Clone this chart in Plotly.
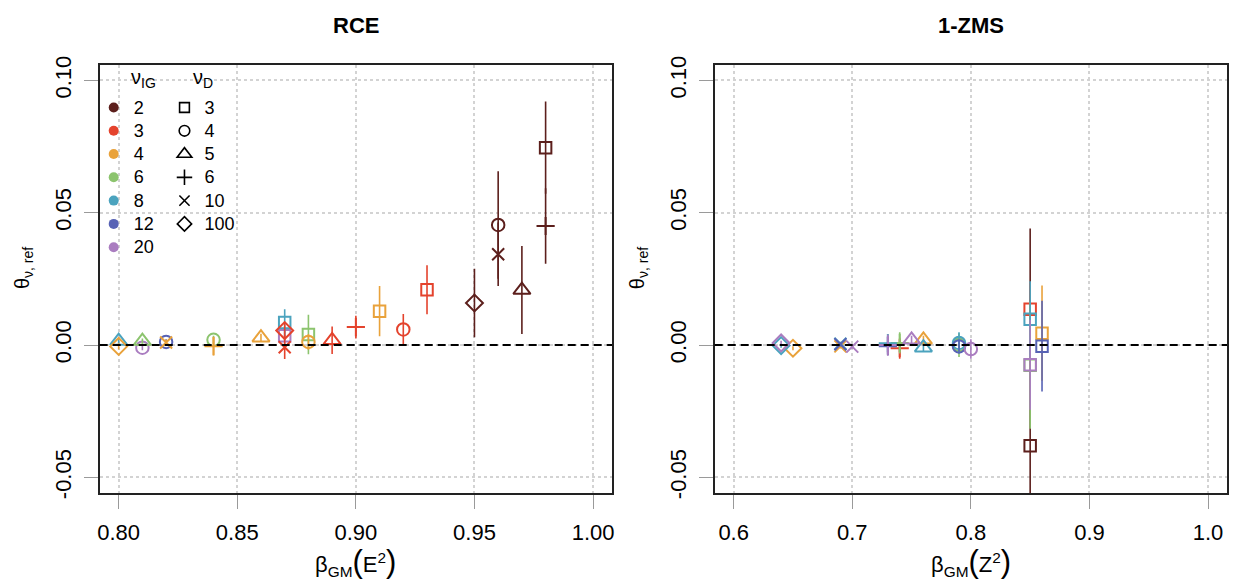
import plotly.graph_objects as go

# ---------------- data ----------------
nuig_levels = [2, 3, 4, 6, 8, 12, 20]
nud_levels = [3, 4, 5, 6, 10, 100]

# RCE panel
rce_beta = [0.80, 0.80, 0.81, 0.81, 0.82, 0.82, 0.84, 0.84, 0.86, 0.87, 0.87, 0.87, 0.87,
            0.88, 0.88, 0.89, 0.90, 0.91, 0.92, 0.93, 0.95, 0.96, 0.96, 0.97, 0.98, 0.98]
rce_theta = [0.0015, -0.0005, 0.0015, -0.0010, 0.0012, 0.0010, 0.0020, -0.0004, 0.0028,
             0.0085, 0.0035, 0.0055, -0.0008, 0.0040, 0.0012, 0.0018, 0.0068, 0.0128,
             0.0059, 0.0209, 0.0159, 0.0454, 0.0343, 0.0208, 0.0746, 0.0450]
rce_err = [0.0010, 0.0012, 0.0010, 0.0010, 0.0010, 0.0010, 0.0015, 0.0035, 0.0015,
           0.0050, 0.0030, 0.0030, 0.0045, 0.0075, 0.0030, 0.0052, 0.0043, 0.0095,
           0.0058, 0.0093, 0.0129, 0.0203, 0.0120, 0.0166, 0.0174, 0.0143]
rce_nuig = [8, 4, 6, 20, 12, 4, 6, 4, 4, 8, 20, 3, 3, 6, 4, 3, 3, 4, 3, 3, 2, 2, 2, 2, 2, 2]
rce_nud = [5, 100, 5, 4, 4, 10, 4, 6, 5, 3, 3, 100, 10, 3, 4, 5, 6, 3, 4, 3, 100, 4, 10, 5, 3, 6]

# 1-ZMS panel
zms_beta = [0.64, 0.64, 0.65, 0.69, 0.69, 0.69, 0.70, 0.73, 0.73, 0.73, 0.74, 0.74, 0.75,
            0.76, 0.76, 0.79, 0.79, 0.79, 0.79, 0.80, 0.85, 0.85, 0.85, 0.85, 0.85, 0.86, 0.86]
zms_theta = [-0.0002, 0.0008, -0.0012, -0.0005, 0.0005, 0.0003, -0.0006, 0.0007, -0.0004,
             0.0000, -0.0012, 0.0008, 0.0020, 0.0020, -0.0010, 0.0000, 0.0008, 0.0000,
             -0.0005, -0.0015, 0.0135, 0.0098, -0.0076, -0.0074, -0.0380, 0.0045, -0.0004]
zms_err = [0.0008, 0.0008, 0.0008, 0.0008, 0.0008, 0.0008, 0.0008, 0.0010, 0.0010,
           0.0040, 0.0040, 0.0040, 0.0015, 0.0015, 0.0015, 0.0045, 0.0040, 0.0020,
           0.0020, 0.0037, 0.0100, 0.0143, 0.0240, 0.0170, 0.0820, 0.0180, 0.0171]
zms_nuig = [8, 20, 4, 4, 8, 12, 20, 8, 12, 20, 3, 6, 20, 4, 8, 6, 8, 4, 12, 20,
            3, 8, 6, 20, 2, 4, 12]
zms_nud = [100, 100, 100, 10, 10, 10, 10, 6, 6, 6, 6, 6, 5, 5, 5, 4, 4, 4, 4, 4,
           3, 3, 3, 3, 3, 3, 3]

# ---------------- styles ----------------
colors = {2: '#5C1F1C', 3: '#E4432D', 4: '#E9A23B', 6: '#8CC46E',
          8: '#4BA3BE', 12: '#5762B5', 20: '#AA7DC0'}
symbols = {3: 'square-open', 4: 'circle-open', 5: 'triangle-up-open',
           6: 'cross-thin-open', 10: 'x-thin-open', 100: 'diamond-open'}
sizes = {3: 11.5, 4: 12.5, 5: 15, 6: 13, 10: 12, 100: 13}

FONT = 'Liberation Sans, Arial, Helvetica, sans-serif'
W, H = 1240, 586

fig = go.Figure()


def add_panel(beta, theta, err, nuig, nud, xa, ya, order):
    for lev in order:
        idx = [i for i, g in enumerate(nuig) if g == lev]
        if not idx:
            continue
        c = colors[lev]
        fig.add_trace(go.Scatter(
            x=[beta[i] for i in idx], y=[theta[i] for i in idx],
            mode='markers', xaxis=xa, yaxis=ya, showlegend=False,
            marker=dict(symbol=[symbols[nud[i]] for i in idx],
                        size=[sizes[nud[i]] for i in idx], opacity=1,
                        color=c, line=dict(color=c, width=2)),
            error_y=dict(type='data', array=[err[i] for i in idx], symmetric=True,
                         color=c, thickness=1.6, width=0),
            hoverinfo='x+y'))


add_panel(rce_beta, rce_theta, rce_err, rce_nuig, rce_nud, 'x', 'y', nuig_levels[::-1])
add_panel(zms_beta, zms_theta, zms_err, zms_nuig, zms_nud, 'x2', 'y2', nuig_levels)

# legend entries
for lev in nuig_levels:
    fig.add_trace(go.Scatter(
        x=[None], y=[None], mode='markers', name=f"<span style='font-size:18px'>{lev}</span>",
        legend='legend', marker=dict(symbol='circle', size=10, color=colors[lev], opacity=1)))
for lev in nud_levels:
    fig.add_trace(go.Scatter(
        x=[None], y=[None], mode='markers', name=f"<span style='font-size:18px'>{lev}</span>",
        legend='legend2',
        marker=dict(symbol=symbols[lev], size=sizes[lev] * 0.85, color='black', opacity=1,
                    line=dict(color='black', width=1.6))))


def px_x(p):
    return p / W


def px_y(p):
    return 1 - p / H


xl = [px_x(98), px_x(612)]
xr = [px_x(715), px_x(1229)]
yd = [px_y(497), px_y(57)]

ytickvals = [-0.05, 0.0, 0.05, 0.10]
yticktext = ['-0.05', '0.00', '0.05', '0.10']
xl_ticks = [0.80, 0.85, 0.90, 0.95, 1.00]
xr_ticks = [0.6, 0.7, 0.8, 0.9, 1.0]

axis_common = dict(showline=True, mirror=True, linecolor='#222222', linewidth=1.8,
                   ticks='outside', tickcolor='#9a9a9a', tickwidth=1, ticklen=14,
                   showgrid=True, gridcolor='#d3d3d3', gridwidth=1.5, griddash='dot',
                   zeroline=False, tickfont=dict(family=FONT, size=22, color='black'))

fig.update_layout(
    width=W, height=H, margin=dict(l=0, r=0, t=0, b=0), autosize=False,
    paper_bgcolor='white', plot_bgcolor='white',
    font=dict(family=FONT, color='black'),
    xaxis=dict(domain=xl, range=[0.792, 1.008], tickvals=xl_ticks,
               ticktext=[f'{v:.2f}' for v in xl_ticks], anchor='y',
               ticklabelstandoff=4, **axis_common),
    yaxis=dict(domain=yd, range=[-0.056, 0.106], tickvals=ytickvals, ticktext=yticktext,
               tickangle=-90, anchor='x', ticklabelstandoff=4, **axis_common),
    xaxis2=dict(domain=xr, range=[0.584, 1.016], tickvals=xr_ticks,
                ticktext=[f'{v:.1f}' for v in xr_ticks], anchor='y2',
                ticklabelstandoff=4, **axis_common),
    yaxis2=dict(domain=yd, range=[-0.056, 0.106], tickvals=ytickvals, ticktext=yticktext,
                tickangle=-90, anchor='x2', ticklabelstandoff=4, **axis_common),
    legend=dict(x=px_x(92), y=px_y(84), xanchor='left', yanchor='top',
                bgcolor='rgba(0,0,0,0)', font=dict(family=FONT, size=15.6, color='black'),
                itemwidth=30, tracegroupgap=0),
    legend2=dict(x=px_x(163), y=px_y(84), xanchor='left', yanchor='top',
                 bgcolor='rgba(0,0,0,0)', font=dict(family=FONT, size=15.6, color='black'),
                 itemwidth=30, tracegroupgap=0),
)

# dashed zero reference lines
for xa, ya in [('x', 'y'), ('x2', 'y2')]:
    fig.add_shape(type='line', xref=f'{xa} domain', yref=ya, x0=0, x1=1, y0=0, y1=0,
                  line=dict(color='black', width=2, dash='8px,5px'), layer='above')

ann = []
# panel titles
ann.append(dict(text='<b>RCE</b>', x=(xl[0] + xl[1]) / 2, y=px_y(17)))
ann.append(dict(text='<b>1-ZMS</b>', x=(xr[0] + xr[1]) / 2, y=px_y(17)))
for a in ann:
    a.update(xref='paper', yref='paper', showarrow=False,
             font=dict(family=FONT, size=22, color='black'), xanchor='center', yanchor='middle')

big = "<span style='font-size:31px'>"
xt = [dict(text=f"β<sub>GM</sub>{big}(</span>E<sup>2</sup>{big})</span>",
           x=(xl[0] + xl[1]) / 2, y=px_y(568)),
      dict(text=f"β<sub>GM</sub>{big}(</span>Z<sup>2</sup>{big})</span>",
           x=(xr[0] + xr[1]) / 2, y=px_y(568))]
for a in xt:
    a.update(xref='paper', yref='paper', showarrow=False,
             font=dict(family=FONT, size=22, color='black'), xanchor='center', yanchor='middle')
ann += xt

yt = [dict(text='θ<sub>ν, ref</sub>', x=px_x(21), y=px_y(266)),
      dict(text='θ<sub>ν, ref</sub>', x=px_x(638), y=px_y(266))]
for a in yt:
    a.update(xref='paper', yref='paper', showarrow=False, textangle=-90,
             font=dict(family=FONT, size=20, color='black'), xanchor='center', yanchor='middle')
ann += yt

# legend headers
hd = [dict(text='ν<sub>IG</sub>', x=px_x(142), y=px_y(71)),
      dict(text='ν<sub>D</sub>', x=px_x(202), y=px_y(71))]
for a in hd:
    a.update(xref='paper', yref='paper', showarrow=False,
             font=dict(family=FONT, size=20, color='black'), xanchor='center', yanchor='middle')
ann += hd

fig.update_layout(annotations=ann)

fig.write_html('out.html')
